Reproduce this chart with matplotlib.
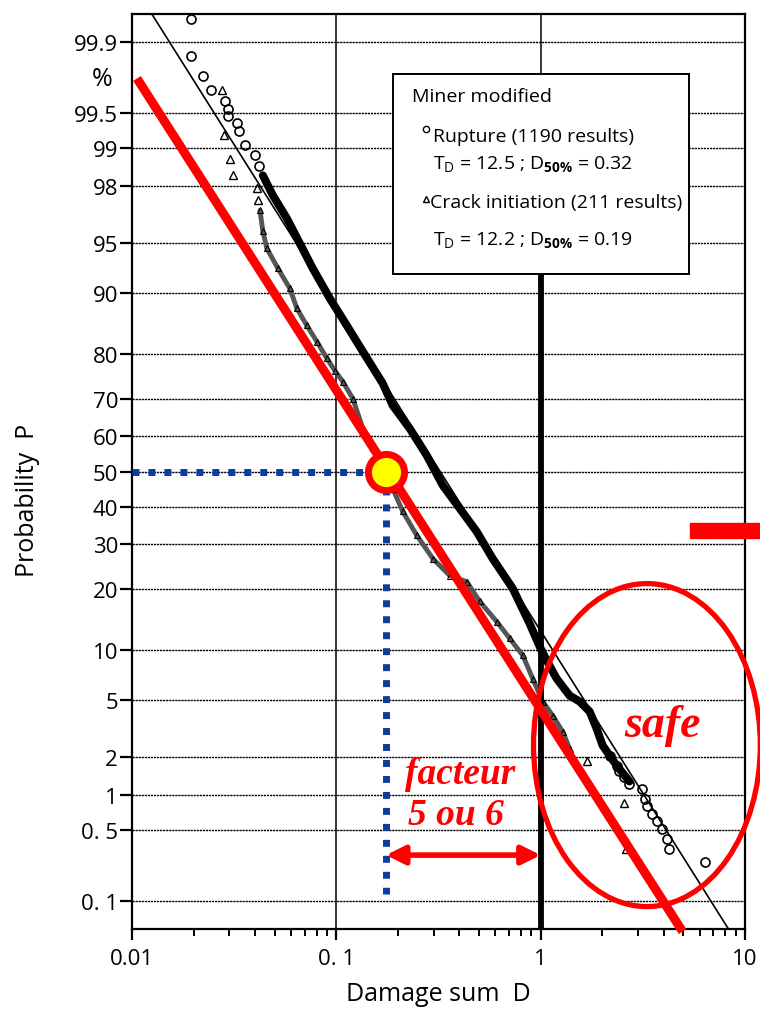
import numpy as np
import matplotlib
matplotlib.use('Agg')
import matplotlib.pyplot as plt
from matplotlib.patches import Ellipse, Rectangle
from matplotlib.ticker import NullFormatter, NullLocator, FixedLocator
from statistics import NormalDist

plt.rcParams['font.family'] = ['Open Sans', 'DejaVu Sans']
plt.rcParams['mathtext.fontset'] = 'custom'
plt.rcParams['mathtext.rm'] = 'Open Sans'
plt.rcParams['mathtext.bf'] = 'Open Sans:bold'

################## data (D, P in %) #################
# rupture, dense part of the cloud
rup_band_D = [0.0437, 0.0489, 0.0573, 0.0663, 0.0767, 0.0929, 0.1125, 0.1348, 0.1687,
              0.1888, 0.2286, 0.277, 0.332, 0.402, 0.486, 0.582, 0.730, 0.883, 0.989,
              1.07, 1.197, 1.386, 1.552, 1.737, 1.879, 2.01, 2.355, 2.72]
rup_band_P = [98.34, 97.65, 96.56, 94.95, 92.79, 89.34, 85.32, 80.59, 73.67,
              68.26, 62.15, 54.58, 45.99, 39.5, 33.3, 26.57, 20.0, 13.7, 10.4,
              8.7, 6.82, 5.35, 4.9, 4.21, 3.22, 2.44, 1.72, 1.29]
# rupture, single points in the tails
rup_pts_D = [0.0194, 0.0194, 0.0222, 0.0243, 0.0285, 0.0295, 0.0295, 0.0326, 0.0333,
             0.0357, 0.0400, 0.0418,
             2.18, 2.355, 2.43, 2.57, 2.72, 3.15, 3.23, 3.30, 3.49, 3.69, 3.91, 4.13, 4.23, 6.34]
rup_pts_P = [99.943, 99.859, 99.776, 99.694, 99.611, 99.54, 99.47, 99.386, 99.29,
             99.05, 98.85, 98.61,
             2.02, 1.72, 1.55, 1.41, 1.24, 1.13, 0.93, 0.80, 0.69, 0.60, 0.51, 0.41, 0.33, 0.25]

# crack initiation
crack_band_D = [0.0423, 0.0437, 0.0457, 0.0518, 0.0592, 0.0641, 0.0717, 0.0803, 0.0899,
                0.0983, 0.1076, 0.1204, 0.1348, 0.1509, 0.1888, 0.2113, 0.2475, 0.2965,
                0.359, 0.4345, 0.503, 0.610, 0.705, 0.817, 0.914, 1.023, 1.145, 1.281, 1.386]
crack_band_P = [96.98, 95.79, 94.57, 92.79, 90.6, 87.96, 85.32, 82.5, 79.2,
                76.6, 74.1, 70.0, 62.15, 56.6, 45.1, 38.7, 32.3, 26.57,
                22.7, 21.4, 17.5, 14.0, 11.5, 9.3, 6.82, 4.9, 3.96, 3.07, 2.31]
crack_pts_D = [0.0275, 0.0282, 0.0301, 0.0312, 0.0408, 0.0413, 1.68, 2.57, 2.63]
crack_pts_P = [99.694, 99.22, 98.78, 98.34, 97.91, 97.44, 1.88, 0.85, 0.33]

# fitted rupture line (D50% = 0.32)
fit_D = [0.0125, 8.3]
fit_P = [99.95, 0.05]

# red design line and its 50 % point
red_D = [0.01058, 4.95]
red_P = [99.765, 0.0468]
d50_D = 0.175
d50_P = 50
arrow_P = 0.29
blue_bottom_P = 0.12

yticks = [0.1, 0.5, 1, 2, 5, 10, 20, 30, 40, 50, 60, 70, 80, 90, 95, 98, 99, 99.5, 99.9]
ylabels = ['0. 1', '0. 5', '1', '2', '5', '10', '20', '30', '40', '50', '60', '70',
           '80', '90', '95', '98', '99', '99.5', '99.9']
xticks = [0.01, 0.1, 1, 10]
xlabels = ['0.01', '0. 1', '1', '10']
#####################################################################################

nd = NormalDist()


def prob_fwd(p):
    p = np.clip(np.asarray(p, dtype=float), 1e-7, 100 - 1e-7)
    return np.vectorize(lambda v: nd.inv_cdf(v / 100.0), otypes=[float])(p)


def prob_inv(z):
    z = np.asarray(z, dtype=float)
    return np.vectorize(lambda v: nd.cdf(v) * 100.0, otypes=[float])(z)


fig = plt.figure(figsize=(7.6, 10.12), dpi=100)
ax = fig.add_axes([132 / 760, 82 / 1012, 613 / 760, 915 / 1012])

ax.set_xscale('log')
ax.set_yscale('function', functions=(prob_fwd, prob_inv))
ax.set_xlim(0.01, 10)
ax.set_ylim(0.05, 99.95)

# ticks
ax.yaxis.set_major_locator(FixedLocator(yticks))
ax.yaxis.set_minor_locator(NullLocator())
ax.set_yticklabels(ylabels)
ax.set_xticks(xticks)
ax.set_xticklabels(xlabels)
ax.xaxis.set_minor_formatter(NullFormatter())
ax.tick_params(axis='y', which='major', direction='out', length=9, width=1.6,
               labelsize=16, pad=1)
ax.tick_params(axis='x', which='major', direction='out', length=8, width=1.6,
               labelsize=16, pad=6)
ax.tick_params(axis='x', which='minor', direction='out', length=5, width=1.4)
for s in ax.spines.values():
    s.set_linewidth(1.6)

# grid (scanned look: dense dotted black)
for p in yticks:
    ax.axhline(p, color='black', lw=1.0, ls=(0, (1.6, 0.6)), zorder=0.5)
for d in [0.1, 1]:
    ax.axvline(d, color='black', lw=1.1, zorder=0.5)

# data
ax.plot(fit_D, fit_P, color='black', lw=1.2, zorder=3)
ax.plot(rup_band_D, rup_band_P, color='black', lw=5.8, solid_capstyle='round',
        solid_joinstyle='round', zorder=3)
ax.plot(rup_pts_D, rup_pts_P, 'o', ms=6.5, mfc='none', mec='black', mew=1.2, zorder=3)
ax.plot(crack_band_D, crack_band_P, color='#555555', lw=3.5, solid_capstyle='round',
        solid_joinstyle='round', zorder=3)
ax.plot(crack_band_D, crack_band_P, '^', ms=4, mfc='none', mec='black', mew=0.8, zorder=3)
ax.plot(crack_pts_D, crack_pts_P, '^', ms=6, mfc='none', mec='black', mew=1.0, zorder=3)

# thick line at D = 1 below the legend box
ax.axvline(1, ymin=0, ymax=0.716, color='black', lw=4.2, zorder=4)

# legend box
ax.add_patch(Rectangle((0.426, 0.716), 0.483, 0.218, transform=ax.transAxes,
                       facecolor='white', edgecolor='black', lw=1.4, zorder=5))
ax.text(0.457, 0.910, 'Miner modified', transform=ax.transAxes, fontsize=14,
        va='center', ha='left', zorder=6)
ax.plot([0.480], [0.874], 'o', ms=4.5, mfc='none', mec='black', mew=1.0,
        transform=ax.transAxes, zorder=6)
ax.text(0.491, 0.867, 'Rupture (1190 results)', transform=ax.transAxes, fontsize=14,
        va='center', ha='left', zorder=6)
ax.text(0.491, 0.836, r'T$_\mathrm{D}$ = 12.5 ; D$_\mathbf{50\%}$ = 0.32',
        transform=ax.transAxes, fontsize=14, va='center', ha='left', zorder=6)
ax.plot([0.480], [0.798], '^', ms=5, mfc='none', mec='black', mew=1.0,
        transform=ax.transAxes, zorder=6)
ax.text(0.486, 0.795, 'Crack initiation (211 results)', transform=ax.transAxes,
        fontsize=14, va='center', ha='left', zorder=6)
ax.text(0.491, 0.753, r'T$_\mathrm{D}$ = 12.2 ; D$_\mathbf{50\%}$ = 0.19',
        transform=ax.transAxes, fontsize=14, va='center', ha='left', zorder=6)

# red annotations
ax.plot(red_D, red_P, color='#ff0000', lw=6.5, solid_capstyle='butt', zorder=7,
        clip_on=False)
ax.plot([0.01, d50_D], [d50_P, d50_P], color='#0a3d9c', lw=5, ls=(0, (1, 1.3)),
        dash_capstyle='butt', zorder=6)
ax.plot([d50_D, d50_D], [d50_P, blue_bottom_P], color='#0a3d9c', lw=5, ls=(0, (1, 1.3)),
        dash_capstyle='butt', zorder=6)
ax.plot([d50_D], [d50_P], 'o', ms=26, mfc='#ffff00', mec='#ff0000', mew=5, zorder=8)

ax.annotate('', xy=(d50_D, arrow_P), xytext=(1.0, arrow_P),
            arrowprops=dict(arrowstyle='<|-|>', color='#ff0000', lw=4,
                            mutation_scale=28, shrinkA=0, shrinkB=0), zorder=7)
ax.text(0.535, 0.160, 'facteur', transform=ax.transAxes, color='#ff0000',
        fontsize=27, family='Liberation Serif', weight='bold', style='italic',
        ha='center', va='baseline', zorder=7)
ax.text(0.528, 0.115, '5 ou 6', transform=ax.transAxes, color='#ff0000',
        fontsize=27, family='Liberation Serif', weight='bold', style='italic',
        ha='center', va='baseline', zorder=7)
ax.text(0.866, 0.211, 'safe', transform=ax.transAxes, color='#ff0000',
        fontsize=33, family='Liberation Serif', weight='bold', style='italic',
        ha='center', va='baseline', zorder=7)
ax.add_patch(Ellipse((0.840, 0.201), 0.370, 0.353, transform=ax.transAxes,
                     fill=False, edgecolor='#ff0000', lw=3.8, clip_on=False, zorder=7))
fig.add_artist(Rectangle((690 / 760, 1 - 539 / 1012), 70 / 760, 15 / 1012,
                         transform=fig.transFigure, color='#ff0000'))

# labels
ax.text(-0.049, 0.929, '%', transform=ax.transAxes, fontsize=18, ha='center', va='center')
ax.set_ylabel('Probability  P', fontsize=18)
ax.yaxis.set_label_coords(-0.170, 0.47)
ax.yaxis.label.set_va('center')
ax.set_xlabel('Damage sum  D', fontsize=18)
ax.xaxis.set_label_coords(0.50, -0.071)
ax.xaxis.label.set_va('center')

fig.savefig('out.png', dpi=100)
